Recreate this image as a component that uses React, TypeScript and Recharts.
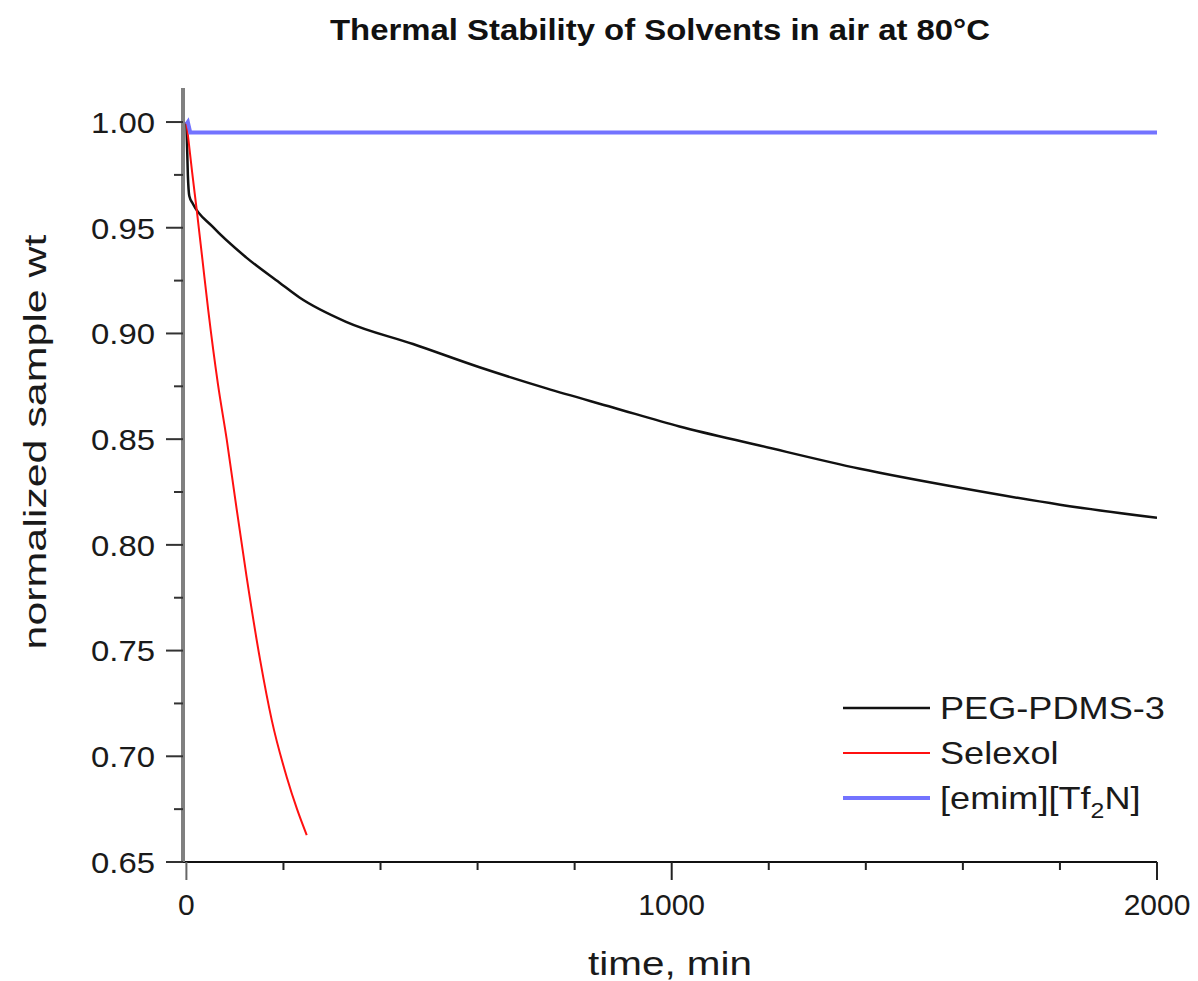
import React from "react";
import { LineChart, Line, XAxis, YAxis, Legend } from "recharts";

const pegTime = [0, 3, 6, 13, 54, 123, 192, 233, 329, 467, 604, 742, 879, 1016, 1181, 1388, 1594, 1800, 2000];
const pegWeight = [1.0, 0.975, 0.965, 0.9615, 0.9505, 0.936, 0.924, 0.917, 0.9055, 0.895, 0.884, 0.874, 0.865, 0.856, 0.847, 0.836, 0.827, 0.819, 0.8128];

const selexolTime = [0, 5, 12, 22, 33, 45, 65, 83, 101, 124, 152, 176, 207, 228, 248];
const selexolWeight = [1.0, 0.99, 0.976, 0.957, 0.935, 0.911, 0.876, 0.85, 0.821, 0.785, 0.7455, 0.717, 0.69, 0.675, 0.6627];

const emimTime = [0, 3, 8, 2000];
const emimWeight = [0.999, 1.0, 0.995, 0.995];

const xTicks = [0, 200, 400, 600, 800, 1000, 1200, 1400, 1600, 1800, 2000];
const xMajor = [0, 1000, 2000];
const yTicks = [0.65, 0.675, 0.7, 0.725, 0.75, 0.775, 0.8, 0.825, 0.85, 0.875, 0.9, 0.925, 0.95, 0.975, 1.0];

const seriesNames = ["PEG-PDMS-3", "Selexol", "[emim][Tf2N]"];
const seriesColors = ["#111111", "#ff1010", "#7373ff"];

const toData = (t: number[], w: number[]) => t.map((v, i) => ({ t: v, w: w[i] }));
const pegData = toData(pegTime, pegWeight);
const selexolData = toData(selexolTime, selexolWeight);
const emimData = toData(emimTime, emimWeight);

const FONT = "'Liberation Sans', Arial, Helvetica, sans-serif";

const YTick = (props: any) => {
  const { x, y, payload } = props;
  const v = payload.value;
  const major = Math.abs(v * 20 - Math.round(v * 20)) < 1e-6;
  return (
    <g>
      <line x1={x - (major ? 17 : 9)} x2={x} y1={y} y2={y} stroke="#333" strokeWidth={2} />
      {major && (
        <text
          x={x - 28}
          y={y}
          dy="0.36em"
          textAnchor="end"
          fontFamily={FONT}
          fontSize={30}
          fill="#1a1a1a"
          textLength={64}
          lengthAdjust="spacingAndGlyphs"
        >
          {v.toFixed(2)}
        </text>
      )}
    </g>
  );
};

const XTick = (props: any) => {
  const { x, y, payload } = props;
  const v = payload.value;
  const major = xMajor.includes(v);
  return (
    <g>
      <line x1={x} x2={x} y1={y} y2={y + (major ? 18 : 8)} stroke={v === 0 ? "#666" : "#222"} strokeWidth={2} />
      {major && (
        <text x={x} y={y + 53} textAnchor="middle" fontFamily={FONT} fontSize={30} fill="#1a1a1a">
          {String(v)}
        </text>
      )}
    </g>
  );
};

const LegendContent = (props: any) => {
  const payload = props.payload || [];
  return (
    <svg width={360} height={140} style={{ overflow: "visible", position: "absolute", left: 0, top: 0 }}>
      {payload.map((entry: any, i: number) => {
        const ly = 28 + i * 45;
        const label = String(entry.value);
        const parts = label.split("2");
        return (
          <g key={label}>
            <line x1={13} x2={100} y1={ly} y2={ly} stroke={entry.color} strokeWidth={i === 2 ? 4 : i === 0 ? 2.5 : 2} />
            <g transform={`translate(110, ${ly + 11}) scale(1.13, 1)`}>
              <text x={0} y={0} fontFamily={FONT} fontSize={32} fill="#1a1a1a">
                {parts.length > 1 ? (
                  <>
                    {parts[0]}
                    <tspan fontSize={22} dy={9}>2</tspan>
                    <tspan dy={-9}>{parts[1]}</tspan>
                  </>
                ) : (
                  label
                )}
              </text>
            </g>
          </g>
        );
      })}
    </svg>
  );
};

export default function App() {
  return (
    <div style={{ position: "absolute", left: 0, top: 0, width: 1198, height: 981, background: "#fff" }}>
      <LineChart
        width={1198}
        height={981}
        margin={{ top: 88, right: 41, bottom: 0, left: 0 }}
        style={{ fontFamily: FONT }}
      >
        <XAxis
          type="number"
          dataKey="t"
          domain={[-7, 2000]}
          ticks={xTicks}
          interval={0}
          tickSize={0}
          tickMargin={0}
          tickLine={false}
          tick={<XTick />}
          axisLine={{ stroke: "#111", strokeWidth: 2 }}
          allowDataOverflow
          height={119}
        />
        <YAxis
          type="number"
          dataKey="w"
          domain={[0.65, 1.0161]}
          ticks={yTicks}
          interval={0}
          tickSize={0}
          tickMargin={0}
          tickLine={false}
          tick={<YTick />}
          axisLine={{ stroke: "#808080", strokeWidth: 4 }}
          allowDataOverflow
          width={183}
        />
        <Legend
          content={<LegendContent />}
          wrapperStyle={{ position: "absolute", left: 830, top: 680, width: 0, height: 0, overflow: "visible" }}
        />
        <Line
          data={pegData}
          dataKey="w"
          name={seriesNames[0]}
          type="monotone"
          stroke={seriesColors[0]}
          strokeWidth={2.5}
          dot={false}
          isAnimationActive={false}
        />
        <Line
          data={selexolData}
          dataKey="w"
          name={seriesNames[1]}
          type="monotone"
          stroke={seriesColors[1]}
          strokeWidth={2}
          dot={false}
          isAnimationActive={false}
        />
        <Line
          data={emimData}
          dataKey="w"
          name={seriesNames[2]}
          type="linear"
          stroke={seriesColors[2]}
          strokeWidth={4}
          dot={false}
          isAnimationActive={false}
        />
      </LineChart>
      <svg
        width={1198}
        height={981}
        style={{ position: "absolute", left: 0, top: 0, pointerEvents: "none" }}
      >
        <text
          x={660}
          y={40}
          textAnchor="middle"
          fontFamily={FONT}
          fontWeight="bold"
          fontSize={29}
          fill="#111"
          textLength={660}
          lengthAdjust="spacingAndGlyphs"
        >
          Thermal Stability of Solvents in air at 80°C
        </text>
        <text
          x={46}
          y={442}
          transform="rotate(-90, 46, 442)"
          textAnchor="middle"
          fontFamily={FONT}
          fontSize={31}
          fill="#1a1a1a"
          textLength={415}
          lengthAdjust="spacingAndGlyphs"
        >
          normalized sample wt
        </text>
        <text
          x={670}
          y={975}
          textAnchor="middle"
          fontFamily={FONT}
          fontSize={33}
          fill="#1a1a1a"
          textLength={164}
          lengthAdjust="spacingAndGlyphs"
        >
          time, min
        </text>
      </svg>
    </div>
  );
}
